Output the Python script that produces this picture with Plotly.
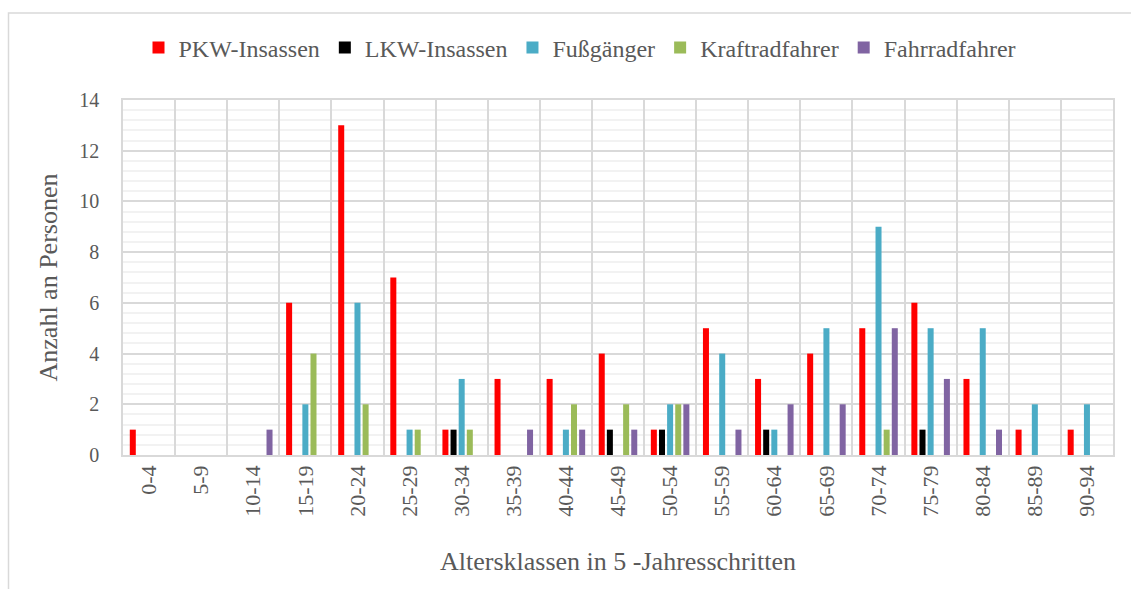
import plotly.graph_objects as go

categories = ["0-4", "5-9", "10-14", "15-19", "20-24", "25-29", "30-34", "35-39",
              "40-44", "45-49", "50-54", "55-59", "60-64", "65-69", "70-74",
              "75-79", "80-84", "85-89", "90-94"]

pkw = [1, 0, 0, 6, 13, 7, 1, 3, 3, 4, 1, 5, 3, 4, 5, 6, 3, 1, 1]
lkw = [0, 0, 0, 0, 0, 0, 1, 0, 0, 1, 1, 0, 1, 0, 0, 1, 0, 0, 0]
fuss = [0, 0, 0, 2, 6, 1, 3, 0, 1, 0, 2, 4, 1, 5, 9, 5, 5, 2, 2]
kraft = [0, 0, 0, 4, 2, 1, 1, 0, 2, 2, 2, 0, 0, 0, 1, 0, 0, 0, 0]
fahrrad = [0, 0, 1, 0, 0, 0, 0, 1, 1, 1, 2, 1, 2, 2, 5, 3, 1, 0, 0]

series_names = ["PKW-Insassen", "LKW-Insassen", "Fußgänger", "Kraftradfahrer", "Fahrradfahrer"]
series_values = [pkw, lkw, fuss, kraft, fahrrad]
series_colors = ["#FF0000", "#000000", "#4BACC6", "#9BBB59", "#8064A2"]

FONT = "Liberation Serif"
TXT = "#595959"
GRID = "#D9D9D9"

fig = go.Figure()
for name, vals, col in zip(series_names, series_values, series_colors):
    fig.add_trace(go.Bar(x=categories, y=vals, name=name, marker=dict(color=col, line=dict(width=0))))

W, H = 1131, 589
L, R, T, B = 123, 18, 100, 134
pw, ph = W - L - R, H - T - B

def px_x(p):
    return (p - L) / pw

def px_y(p):
    return (H - B - p) / ph

fig.update_layout(
    width=W, height=H,
    margin=dict(l=L, r=R, t=T, b=B, autoexpand=False),
    paper_bgcolor="white", plot_bgcolor="white",
    barmode="group", bargap=0.22, bargroupgap=0.26,
    font=dict(family=FONT, color=TXT, size=20),
    legend=dict(orientation="h", x=px_x(580), y=px_y(48), xanchor="center", yanchor="middle",
                font=dict(family=FONT, size=24, color=TXT), itemwidth=30,
                bgcolor="rgba(0,0,0,0)"),
    xaxis=dict(
        type="category", tickson="boundaries", ticks="", showgrid=True,
        gridcolor=GRID, gridwidth=1.5, showline=True, mirror=True,
        linecolor=GRID, linewidth=1.5, tickangle=-90,
        tickfont=dict(family=FONT, size=22, color=TXT),
        title=dict(text="Altersklassen in 5 -Jahresschritten",
                   font=dict(family=FONT, size=26, color=TXT), standoff=36),
    ),
    yaxis=dict(
        range=[0, 14], dtick=2, tick0=0, showgrid=True, gridcolor=GRID, gridwidth=1.5,
        showline=True, mirror=True, linecolor=GRID, linewidth=1.5, zeroline=False,
        ticks="", ticklabelstandoff=18,
        tickfont=dict(family=FONT, size=20, color=TXT),
        minor=dict(dtick=0.4, tick0=0, showgrid=True, gridcolor="#F2F2F2", gridwidth=1.5),
        title=dict(text="Anzahl an Personen", font=dict(family=FONT, size=26, color=TXT), standoff=14),
    ),
    shapes=[dict(type="rect", xref="paper", yref="paper",
                 x0=px_x(8.5), x1=px_x(1140), y0=px_y(600), y1=px_y(13),
                 line=dict(color=GRID, width=1.5), fillcolor="rgba(0,0,0,0)", layer="below")],
)

fig.write_html("out.html", config={"displayModeBar": False})

with open("out.html", "r", encoding="utf-8") as f:
    html = f.read()
html = html.replace("<head>", "<head><style>html,body{margin:0;padding:0;overflow:hidden;}</style>", 1)
with open("out.html", "w", encoding="utf-8") as f:
    f.write(html)
